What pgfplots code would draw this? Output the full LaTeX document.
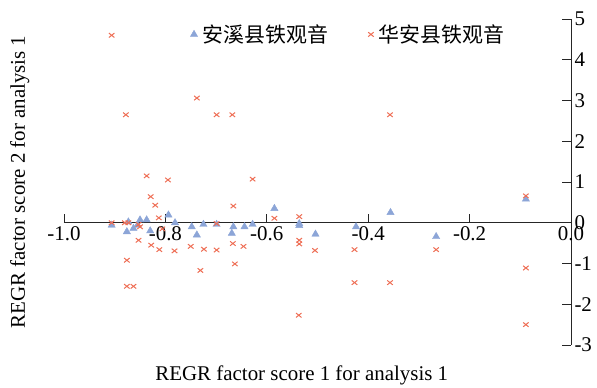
\documentclass[border=0pt]{standalone}
\usepackage{fontspec}
\setmainfont{Liberation Serif}
\newfontfamily\cjk{Noto Sans CJK SC}
\usepackage{pgfplots}
\pgfplotsset{compat=1.18}
\definecolor{tblue}{RGB}{140,165,215}
\definecolor{tred}{RGB}{238,110,85}
\begin{document}
\begin{tikzpicture}
\path (0,0) rectangle (597bp,385bp);
\begin{axis}[
  at={(64bp,40bp)}, anchor=south west,
  width=507bp, height=326bp, scale only axis,
  xmin=-1, xmax=0, ymin=-3, ymax=5,
  axis x line=middle, axis y line=right,
  axis line style={-, black!85, line width=0.9pt},
  every tick/.style={black!85, line width=0.9pt},
  major tick length=9bp,
  xtick={-1,-0.8,-0.6,-0.4,-0.2,0},
  ytick={-3,-2,-1,0,1,2,3,4,5},
  xtick align=inside, ytick align=inside,
  hide obscured x ticks=false, hide obscured y ticks=false,
  font=\fontsize{21}{25}\selectfont,
  /pgf/number format/assume math mode=true,
  xticklabel style={/pgf/number format/.cd, fixed, fixed zerofill, precision=1, assume math mode=true},
  yticklabel style={/pgf/number format/.cd, fixed, precision=0, assume math mode=true},
  xlabel={REGR factor score 1 for analysis 1},
  ylabel={REGR factor score 2 for analysis 1},
  xlabel style={at={(axis description cs:0.469,-0.092)}, anchor=center},
  ylabel style={at={(axis description cs:-0.087,0.5)}, anchor=center, rotate=0},
  legend columns=2,
  legend style={draw=none, fill=none, at={(axis description cs:0.243,0.995)}, anchor=north west,
    font=\fontsize{21}{25}\selectfont\cjk,
    /tikz/every even column/.append style={column sep=38bp}},
  clip=false,
]
\addplot[only marks, mark=triangle*, mark size=4.2bp, color=tblue] coordinates {
(-0.906,-0.06) (-0.873,0.02) (-0.876,-0.22) (-0.863,-0.14) (-0.855,-0.06)
(-0.850,0.07) (-0.837,0.07) (-0.830,-0.20) (-0.794,0.19) (-0.781,0.00)
(-0.748,-0.10) (-0.738,-0.30) (-0.725,-0.04) (-0.699,-0.04) (-0.666,-0.10)
(-0.669,-0.26) (-0.644,-0.10) (-0.628,-0.04) (-0.585,0.35) (-0.536,-0.02)
(-0.536,-0.07) (-0.504,-0.28) (-0.424,-0.10) (-0.356,0.25) (-0.266,-0.34)
(-0.089,0.58)
};
\addlegendentry{\hspace{3bp}安溪县铁观音}
\addplot[only marks, mark=x, mark size=3.9bp, color=tred, mark options={line width=1pt, yscale=0.8}] coordinates {
(-0.906,4.60) (-0.878,2.65) (-0.738,3.06) (-0.699,2.65) (-0.668,2.65) (-0.357,2.65)
(-0.837,1.15) (-0.795,1.05) (-0.829,0.64) (-0.820,0.43) (-0.813,0.12) (-0.628,1.07)
(-0.666,0.41) (-0.585,0.11) (-0.536,0.15) (-0.089,0.66)
(-0.906,0.00) (-0.880,0.00) (-0.873,0.00) (-0.853,-0.04) (-0.850,-0.10) (-0.806,-0.15) (-0.699,-0.02)
(-0.853,-0.43) (-0.828,-0.55) (-0.812,-0.66) (-0.782,-0.69) (-0.750,-0.58) (-0.724,-0.65)
(-0.699,-0.67) (-0.667,-0.51) (-0.646,-0.58) (-0.536,-0.43) (-0.536,-0.52) (-0.505,-0.68)
(-0.427,-0.66) (-0.266,-0.66)
(-0.876,-0.92) (-0.731,-1.17) (-0.663,-1.01) (-0.876,-1.56) (-0.863,-1.56)
(-0.427,-1.47) (-0.357,-1.47) (-0.537,-2.27) (-0.089,-1.11) (-0.089,-2.50)
};
\addlegendentry{\hspace{3bp}华安县铁观音}
\end{axis}
\end{tikzpicture}
\end{document}
